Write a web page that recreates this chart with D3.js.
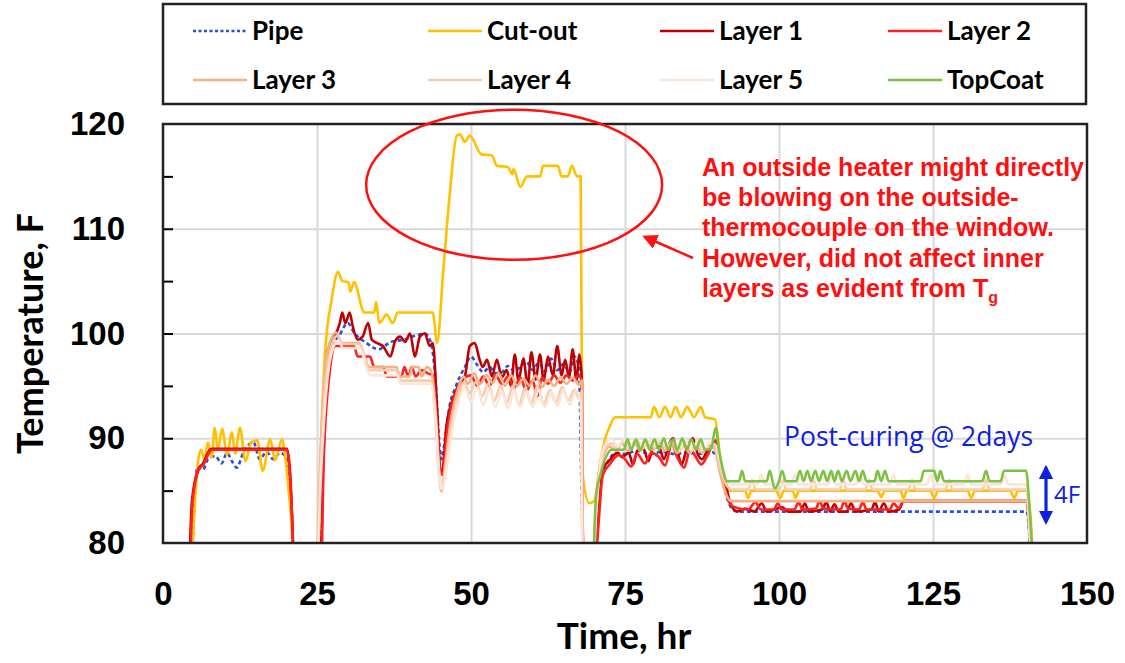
<!DOCTYPE html>
<html>
<head>
<meta charset="utf-8">
<script src="https://cdn.jsdelivr.net/npm/d3@7"></script>
<style>
  body { margin: 0; background: #fff; }
  svg { display: block; }
</style>
</head>
<body>
<script>
// series: [time hr, temperature F]; 76 = below the axis (sensor off / clipped)
var pipe = [[4.6,76],[5.2,85],[5.6,87.3],[6.5,87],[7.3,88],[8.5,88.3],[9.5,87.6],[10.4,88.6],[11.2,87.8],[12,87.2],[13,88.6],[14.7,89.6],[15.7,88],[16.8,88.7],[17.9,88],[19,88.6],[20,88.2],[20.6,86],[21.1,80],[21.3,76],
  [25.3,76],[26,88],[26.6,96],[27.5,99],[28.5,99.7],[30,101],[31,100.1],[33,99.1],[35,98.5],[37,99.2],[39,99.4],[41,99.8],[42.5,100],[43.5,99.1],[44.3,95],[44.8,90],[45.2,88],[45.8,90],[46.5,93],[47.5,94.9],[49,96.8],[50,97.8],[51,97],[52,96.3],[53,96.8],[54,96.2],[55,96.3],[56,96.9],[57,96.4],[58,96.8],[59,97.3],[60,96.5],[61,97.2],[62,96.4],[63,97.6],[64,96.5],[65,97.1],[66,96.3],[66.8,97.8],[67.5,96.8],[68,83.4],[68.4,76],
  [69.8,76],[70.3,82],[71,86],[72,87.5],[73.5,88.6],[75,88.5],[77,88.8],[79,88.5],[81,88.7],[83,88.5],[85,88.6],[87,88.5],[89,88.7],[90,88.2],[90.8,86],[91.5,84.4],[92.5,83.2],[93.5,83],[140.2,83],[140.7,80],[141,76]];

var cutOut = [[4.5,76],[5.2,84],[5.8,88.2],[6.2,88.9],[6.7,88],[7.3,89.6],[7.9,88.2],[8.4,91],[8.9,88.9],[9.6,90.9],[10.4,88.4],[11.2,90.6],[11.7,88.5],[12.5,91],[13.4,87.8],[14.3,89.6],[15.3,89.8],[16.2,86.9],[17.4,89.9],[18.2,87.9],[19.3,89.9],[19.8,88.4],[20.4,85],[21,80],[21.2,76],
  [25.1,76],[25.6,88],[26.3,98],[27.4,103.3],[28.4,105.9],[29.1,105],[30.1,104.9],[30.4,104],[31,104.9],[32.7,102],[34.3,102],[34.6,103],[35.1,101],[36.3,101.8],[37.3,101],[38.1,102],[43.8,102],[44.5,99.1],[45.5,106],[46.5,113],[47.7,118.9],[48.2,119],[49,118.3],[49.8,118.9],[51.7,117.1],[53.4,117],[54.2,116],[56,115.9],[56.7,115.2],[56.9,115.7],[58,114],[59.1,115],[61.2,115],[61.7,116],[64.1,116],[64.7,115],[65.7,115],[66.4,116],[67.2,115],[67.8,115],
  [68.1,86.7],[69.2,83.8],[70,84],[71,87.8],[71.8,90],[72.5,91.1],[73.4,92],[79.2,92],[79.7,93],[80.6,92],[81.5,93],[82.4,92],[83.2,93],[84.1,92],[85.1,93],[86.2,92],[87.3,93],[88,92],[89.6,91.8],[90.5,88],[91.2,86],[92,85],[94.5,85],[95,84.3],[95.5,85],[99.5,85],[100.2,84.3],[100.8,85],[102.2,85],[102.7,84.3],[103.2,85],[116,85],[116.6,84.4],[117.2,85],[119.7,85],[120.2,84.3],[120.8,85],[124.5,85],[125.2,84.3],[125.8,85],[130.6,85],[131.2,84.3],[131.8,85],[137.5,85],[138.2,84.3],[138.8,85],[140.2,85],[140.9,82],[141.4,76]];

var layer1 = [[4.2,76],[4.7,84],[5.7,87],[6.5,87.6],[7.6,88.9],[8,89],[20.1,89],[20.6,87],[21.1,80],[21.3,76],
  [25.5,76],[26,88],[26.8,98.5],[27.9,99.7],[28.7,101],[29.1,102],[29.6,101],[30.3,102],[30.8,100.7],[31.6,99.4],[32.4,99.7],[33.3,101],[33.9,99.4],[34.7,99.1],[35.7,98.8],[36.9,97.8],[37.7,99.3],[38.5,99.7],[39.3,99.2],[40.1,100],[40.9,97.8],[41.7,99.7],[42.5,100],[43.3,98.8],[43.8,99.1],[44.5,92.7],[45,87],[45.3,86.7],[46,91.1],[47,93.7],[48.2,95.3],[49,95.9],[49.8,98.8],[50.6,99.1],[51.4,97.5],[51.9,96.8],[52.6,97.5],[53.4,95.9],[54.2,97.5],[55,95.8],[55.8,96.5],[56.5,95],[57.1,98],[57.7,95.5],[58.5,97.6],[59.2,95],[59.8,98.2],[60.5,95.6],[61.2,98],[61.8,95.5],[62.5,97.8],[63.3,96],[64,98.8],[64.7,96],[65.3,97.5],[65.9,95.8],[66.5,98.5],[67.1,95.5],[67.6,98],[68,95.5],[68.1,82.7],[68.5,76],
  [69.8,76],[70.5,82],[71.3,87],[72.5,87.9],[73.8,88.6],[74.5,88.2],[75.6,88.6],[76.3,87.5],[77,88.8],[78,89],[78.8,87.8],[79.5,89],[80.5,89.2],[81.3,88],[82.2,89.5],[82.8,90],[83.5,88.8],[84.2,87.5],[85,89],[86,90],[86.8,88.5],[87.5,88],[88.5,89],[89.5,89.6],[90.3,87.5],[91.2,86],[92.1,83.8],[93.2,83],[94.5,83.3],[96,83],[97.2,83.8],[98,83],[100.5,83.4],[101.5,83],[103.5,83],[104.2,83.8],[104.8,83],[107,83.2],[107.7,83.9],[108.3,83],[109,83.7],[109.7,83],[111,83],[111.7,83.8],[112.4,83],[115,83.2],[115.6,83.9],[116.2,83],[117,83.8],[117.8,83],[119.5,83.2],[120.2,84],[140.2,84],[140.8,80],[141.2,76]];

var layer2 = [[4.3,76],[4.8,84],[5.8,87],[6.6,87.5],[7.7,88.8],[8.1,88.9],[20.1,88.9],[20.6,86.5],[21.1,80],[21.3,76],
  [25.6,76],[26.1,88],[27,96],[28,98.8],[31,98.8],[31.6,97.8],[33.6,97.8],[34.3,96.8],[35.8,96.8],[36.3,95.9],[38.7,95.9],[39.2,96.8],[39.8,95.9],[40.4,96.8],[41,95.9],[42,96.5],[43,96.2],[43.8,96],[44.5,91],[45,87],[45.4,86.5],[46.1,90.5],[47,93.5],[48,95],[49,95.8],[50,96],[51,95],[52,95.9],[53,95],[54,96],[55,95.2],[56,95.9],[57,94.8],[58,95.8],[59,94.5],[60,95.5],[60.8,94],[61.5,95.8],[62.5,95.2],[63.5,96],[64.5,95.3],[65.5,96],[66.5,95.5],[67.5,96],[68,95.5],[68.1,81],[68.4,76],
  [69.9,76],[70.6,81],[71.4,86.5],[72.5,87.5],[74,88.4],[75,88],[76,87.3],[77,88.5],[78.2,87.6],[79.3,88.6],[80.5,88.2],[81.5,87.4],[82.6,89.4],[83.4,88.3],[84.6,87.2],[85.6,89],[86.4,88.3],[87.4,87.5],[88.5,88.5],[89.7,89.8],[90.5,87],[91.3,85],[92.2,83.6],[93.5,83.3],[95,83.2],[96.2,83.9],[97,83.2],[99.2,83.2],[99.8,83.8],[100.4,83.2],[102.5,83.2],[103.2,83.9],[103.8,83.2],[106,83.3],[106.6,84],[107.2,83.3],[110,83.2],[110.6,84],[111.2,83.3],[113,83.2],[113.6,83.9],[114.2,83.2],[118,83.2],[118.6,83.8],[119.4,83.3],[120.2,84],[140.2,84],[140.8,80],[141.2,76]];

var layer3 = [[24.9,76],[25.4,86],[26,94],[27,99],[28.1,100.1],[29,99.1],[31.9,99.1],[32.7,97.8],[33.5,96.8],[37.9,96.8],[38.4,95.9],[40,95.9],[40.5,96.8],[41.5,96.8],[42,95.9],[42.8,96.8],[43.5,96.5],[44.2,93],[44.8,87],[45.2,84.9],[45.8,87.5],[46.8,92],[47.8,94.5],[48.8,95.9],[49.5,95.2],[50.5,96.2],[51.5,95.2],[52.5,96],[53.5,95.3],[54.5,96.2],[55.5,95],[56.5,96],[57.5,95],[58.5,95.7],[59.5,95],[60.5,96],[61.5,94.9],[62.5,95.6],[63.5,95],[64.5,95.8],[65.5,95.2],[66.5,95.8],[67.5,95.1],[68,95.5],[68.1,78],[68.3,76],
  [69.6,76],[70.2,83],[70.9,87],[71.7,88.6],[72.5,89.2],[73.5,88.8],[74.5,89.5],[75.5,88.8],[76.5,89.6],[77.5,88.8],[78.5,89.5],[79.5,88.9],[80.5,89.6],[81.5,88.8],[82.5,89.5],[83.5,88.6],[84.5,89.3],[85.5,88.6],[86.5,89.4],[87.5,88.6],[88.5,89.2],[89.5,89],[90.5,86.5],[91.5,84.5],[92.3,84],[140.2,84],[140.8,80],[141.2,76]];

var layer4 = [[25,76],[25.5,86],[26.2,94],[27.2,98.5],[28.3,99.8],[29.2,99],[32,99],[32.8,97.5],[33.6,96.5],[38,96.5],[38.5,95.5],[43.5,95.5],[44.2,92],[44.8,86.5],[45.2,85],[45.9,87.2],[46.9,91.5],[47.9,94],[48.9,95.3],[49.8,94.3],[50.8,95.4],[51.8,94],[52.8,95.2],[53.8,93.6],[54.8,95],[55.8,93.4],[56.8,95],[57.8,93.2],[58.8,94.8],[59.8,93.3],[60.8,95],[61.8,93.2],[62.8,94.6],[63.8,93.4],[64.8,94.9],[65.8,93.6],[66.8,94.6],[67.6,93.8],[68,94.5],[68.1,78],[68.3,76],
  [69.6,76],[70.3,83],[71,87.5],[71.8,89],[72.8,89.5],[73.8,89],[74.8,89.8],[75.8,89],[76.8,89.9],[77.8,89],[78.8,89.8],[79.8,89.1],[80.8,89.9],[81.8,89],[82.8,89.7],[83.8,88.8],[84.8,89.6],[85.8,88.8],[86.8,89.6],[87.8,88.9],[88.8,89.5],[89.5,89.3],[90.5,87],[91.5,85.5],[92.3,85.1],[95,85.1],[95.6,86],[96.2,85.1],[100,85.1],[100.6,86],[101.2,85.1],[105,85.1],[105.6,86],[106.2,85.1],[109.8,85.1],[110.4,86],[111,85.1],[114,85.1],[114.6,86],[115.2,85.1],[121,85.1],[121.6,86],[122.2,85.1],[127,85.1],[127.6,86],[128.2,85.1],[133,85.1],[133.6,86],[134.2,85.1],[140.2,85.1],[140.8,80],[141.2,76]];

var layer5 = [[25,76],[25.6,86],[26.3,93],[27.3,98],[28.4,99.3],[29.3,98.6],[32,98.6],[32.9,97],[33.7,96],[38,96],[38.6,95.2],[43.5,95.2],[44.3,91.5],[44.9,86.2],[45.3,85.2],[46,87],[47,91],[48,93.6],[49,94.8],[50,93.5],[51,94.8],[52,93.2],[53,94.6],[54,93],[55,94.5],[56,92.9],[57,94.5],[58,93],[59,94.5],[60,93],[61,94.6],[62,93],[63,94.4],[64,93.1],[65,94.6],[66,93.2],[67,94.5],[67.8,93.5],[68.1,78],[68.3,76],
  [69.6,76],[70.4,83.5],[71.1,88],[71.9,89.5],[72.8,90],[73.8,89.2],[74.8,89.9],[75.8,89.2],[76.8,90],[77.8,89.2],[78.8,89.9],[79.8,89.3],[80.8,90],[81.8,89.2],[82.8,89.8],[83.8,89],[84.8,89.8],[85.8,89],[86.8,89.7],[87.8,89],[88.8,89.5],[89.6,89.4],[90.6,87.5],[91.5,86],[92.3,85.6],[96.5,85.6],[97.1,86.5],[97.7,85.6],[102,85.6],[102.6,86.5],[103.2,85.6],[108,85.6],[108.6,86.5],[109.2,85.6],[112.5,85.6],[113.1,86.5],[113.7,85.6],[118,85.6],[118.6,86.5],[119.2,85.6],[124,85.6],[124.6,86.5],[125.2,85.6],[130,85.6],[130.6,86.5],[131.2,85.6],[136,85.6],[136.6,86.5],[137.2,85.6],[140.2,85.6],[140.8,80],[141.2,76]];

var topCoat = [[69.8,76],[70.3,84.5],[71,86.5],[72,88.3],[72.8,88.9],[74.8,88.9],[75.4,89.9],[76,88.9],[76.8,89.9],[77.5,88.9],[78.3,89.9],[79,88.9],[79.8,89.9],[80.5,88.9],[81.3,90],[82,88.9],[82.8,89.9],[83.5,88.9],[84.3,90],[85,88.9],[85.8,89.9],[86.5,88.9],[87.3,89.9],[88,88.9],[89,89],[89.7,91],[90.3,88.7],[90.9,87],[91.5,85.9],[93.5,85.9],[94,86.9],[94.5,85.9],[98,85.9],[98.5,86.9],[99.3,85.2],[100,85.9],[100.5,86.9],[101.1,85.9],[102.8,85.9],[103.4,86.9],[104,85.9],[104.6,86.9],[105.2,85.9],[105.9,86.9],[106.5,85.9],[107.2,86.9],[107.8,85.9],[108.5,86.9],[109,85.9],[109.6,86.9],[110.2,85.9],[111,86.9],[111.6,85.9],[112.4,86.9],[113,85.9],[113.6,86.9],[114.2,85.9],[115.5,85.9],[116,86.9],[116.6,85.9],[117.2,86.9],[117.8,85.9],[123,85.9],[123.5,86.9],[125.2,86.9],[125.7,85.9],[126.2,86.9],[126.8,85.9],[133,85.9],[133.6,86.9],[134.2,85.9],[136,85.9],[136.5,86.9],[140.1,86.9],[140.7,83],[141.4,76]];

var seriesNames = ["Pipe", "Cut-out", "Layer 1", "Layer 2", "Layer 3", "Layer 4", "Layer 5", "TopCoat"];
var seriesColors = ["#2a4fd8", "#ffc000", "#c00000", "#ff2020", "#f4b183", "#f8cbad", "#fbe5d6", "#7dc242"];
var seriesData = [pipe, cutOut, layer1, layer2, layer3, layer4, layer5, topCoat];

var xTicks = [0, 25, 50, 75, 100, 125, 150];
var yTicks = [80, 90, 100, 110, 120];
var yMinor = [85, 95, 105, 115];

var note = ["An outside heater might directly", "be blowing on the outside-", "thermocouple on the window.", "However, did not affect inner", "layers as evident from T"];

//SIZES
var width = 1125, height = 663;
var plotL = 163, plotR = 1087, plotT = 124, plotB = 543;

var svg = d3.select("body").append("svg")
  .attr("width", width)
  .attr("height", height)
  .style("font-family", "Lato, 'Open Sans', sans-serif");

var x = d3.scaleLinear().domain([0, 150]).range([plotL, plotR]);
var y = d3.scaleLinear().domain([80, 120]).range([plotB, plotT]);

//grid
svg.append("g")
  .attr("transform", "translate(0," + plotB + ")")
  .call(d3.axisBottom(x).tickValues([25, 50, 75, 100, 125]).tickSize(-(plotB - plotT)).tickFormat(""))
  .call(function(g) { g.select(".domain").remove(); })
  .selectAll("line").attr("stroke", "#d9d9d9").attr("stroke-width", 2);

svg.append("g")
  .attr("transform", "translate(" + plotL + ",0)")
  .call(d3.axisLeft(y).tickValues([90, 100, 110]).tickSize(-(plotR - plotL)).tickFormat(""))
  .call(function(g) { g.select(".domain").remove(); })
  .selectAll("line").attr("stroke", "#d9d9d9").attr("stroke-width", 2);

// inward tick marks on the left axis
svg.append("g")
  .attr("transform", "translate(" + plotL + ",0)")
  .call(d3.axisLeft(y).tickValues(yMinor.concat([90, 100, 110])).tickSize(-10).tickFormat(""))
  .call(function(g) { g.select(".domain").remove(); })
  .selectAll("line").attr("stroke", "#000").attr("stroke-width", 2);

//lines
svg.append("clipPath").attr("id", "plotClip")
  .append("rect").attr("x", plotL).attr("y", plotT).attr("width", plotR - plotL).attr("height", plotB - plotT);

var line = d3.line()
  .curve(d3.curveMonotoneX)
  .x(function(d) { return x(d[0]); })
  .y(function(d) { return y(d[1]); });

svg.append("g").attr("clip-path", "url(#plotClip)")
  .selectAll("path")
  .data(seriesData)
  .enter().append("path")
  .attr("d", line)
  .attr("fill", "none")
  .attr("stroke", function(d, i) { return seriesColors[i]; })
  .attr("stroke-width", 2.6)
  .attr("stroke-linejoin", "round")
  .attr("stroke-dasharray", function(d, i) { return i == 0 ? "4,3" : null; });

//frame
svg.append("rect")
  .attr("x", plotL).attr("y", plotT)
  .attr("width", plotR - plotL).attr("height", plotB - plotT)
  .attr("fill", "none").attr("stroke", "#222").attr("stroke-width", 2.5);

//axes labels
var yAxis = svg.append("g")
  .attr("transform", "translate(" + plotL + ",0)")
  .call(d3.axisLeft(y).tickValues(yTicks).tickSize(0).tickPadding(38));
yAxis.select(".domain").remove();
yAxis.selectAll("text").style("font-size", "33px").style("font-weight", "bold").attr("fill", "#000");

var xAxis = svg.append("g")
  .attr("transform", "translate(0," + plotB + ")")
  .call(d3.axisBottom(x).tickValues(xTicks).tickSize(0).tickPadding(39));
xAxis.select(".domain").remove();
xAxis.selectAll("text").style("font-size", "33px").style("font-weight", "bold").attr("fill", "#000");

svg.append("text")
  .attr("transform", "translate(29," + ((plotT + plotB) / 2) + ") rotate(-90)")
  .attr("text-anchor", "middle").attr("dominant-baseline", "central")
  .style("font-size", "36px").style("font-weight", "bold")
  .text("Temperature, F");

svg.append("text")
  .attr("x", 624).attr("y", 649)
  .attr("text-anchor", "middle")
  .style("font-size", "37px").style("font-weight", "bold")
  .text("Time, hr");

//legend
svg.append("rect")
  .attr("x", 163).attr("y", 4).attr("width", 923).attr("height", 100)
  .attr("fill", "#fff").attr("stroke", "#222").attr("stroke-width", 2.5);

var legendCols = [193, 428, 660, 888];
var legendRows = [31, 80];
var items = svg.append("g").selectAll("g")
  .data(seriesNames)
  .enter().append("g")
  .attr("transform", function(d, i) { return "translate(" + legendCols[i % 4] + "," + legendRows[Math.floor(i / 4)] + ")"; });

items.append("line")
  .attr("x1", 0).attr("x2", 54)
  .attr("stroke", function(d, i) { return seriesColors[i]; })
  .attr("stroke-width", 2.6)
  .attr("stroke-dasharray", function(d, i) { return i == 0 ? "3,2.5" : null; });

items.append("text")
  .attr("x", 59).attr("dy", "0.35em")
  .style("font-size", "26px").style("font-weight", "bold")
  .text(function(d) { return d; });

//annotations
svg.append("ellipse")
  .attr("cx", x(57)).attr("cy", y(114.2))
  .attr("rx", 148).attr("ry", 75)
  .attr("fill", "none").attr("stroke", "#ff1010").attr("stroke-width", 2.5);

svg.append("defs").append("marker")
  .attr("id", "redHead").attr("viewBox", "0 0 10 10")
  .attr("refX", 8).attr("refY", 5)
  .attr("markerWidth", 6).attr("markerHeight", 6)
  .attr("orient", "auto")
  .append("path").attr("d", "M0,0 L10,5 L0,10 z").attr("fill", "#ff1010");

svg.append("line")
  .attr("x1", 693).attr("y1", 258).attr("x2", 645).attr("y2", 237)
  .attr("stroke", "#ff1010").attr("stroke-width", 2.5)
  .attr("marker-end", "url(#redHead)");

var noteText = svg.append("text")
  .attr("x", 702).attr("y", 176)
  .style("font-family", "'Liberation Sans', Arial, sans-serif")
  .style("font-size", "25px").style("font-weight", "bold")
  .attr("fill", "#ff1010");
note.forEach(function(s, i) {
  noteText.append("tspan").attr("x", 702).attr("dy", i == 0 ? 0 : 30.2).text(s);
});
noteText.append("tspan").attr("dy", 6).style("font-size", "16px").text("g");

svg.append("text")
  .attr("x", 784).attr("y", 446)
  .style("font-family", "'Open Sans', sans-serif")
  .style("font-size", "26.5px")
  .attr("fill", "#1020e0")
  .text("Post-curing @ 2days");

svg.append("defs").append("marker")
  .attr("id", "blueHead").attr("viewBox", "0 0 10 10")
  .attr("refX", 8).attr("refY", 5)
  .attr("markerWidth", 4.5).attr("markerHeight", 4.5)
  .attr("orient", "auto-start-reverse")
  .append("path").attr("d", "M0,0 L10,5 L0,10 z").attr("fill", "#1020e0");

svg.append("line")
  .attr("x1", 1046).attr("y1", y(87.2)).attr("x2", 1046).attr("y2", y(82))
  .attr("stroke", "#1020e0").attr("stroke-width", 3.2)
  .attr("marker-start", "url(#blueHead)").attr("marker-end", "url(#blueHead)");

svg.append("text")
  .attr("x", 1054).attr("y", y(84.6)).attr("dy", "0.35em")
  .style("font-family", "'Open Sans', sans-serif")
  .style("font-size", "24px")
  .attr("fill", "#1020e0")
  .text("4F");
</script>
</body>
</html>
